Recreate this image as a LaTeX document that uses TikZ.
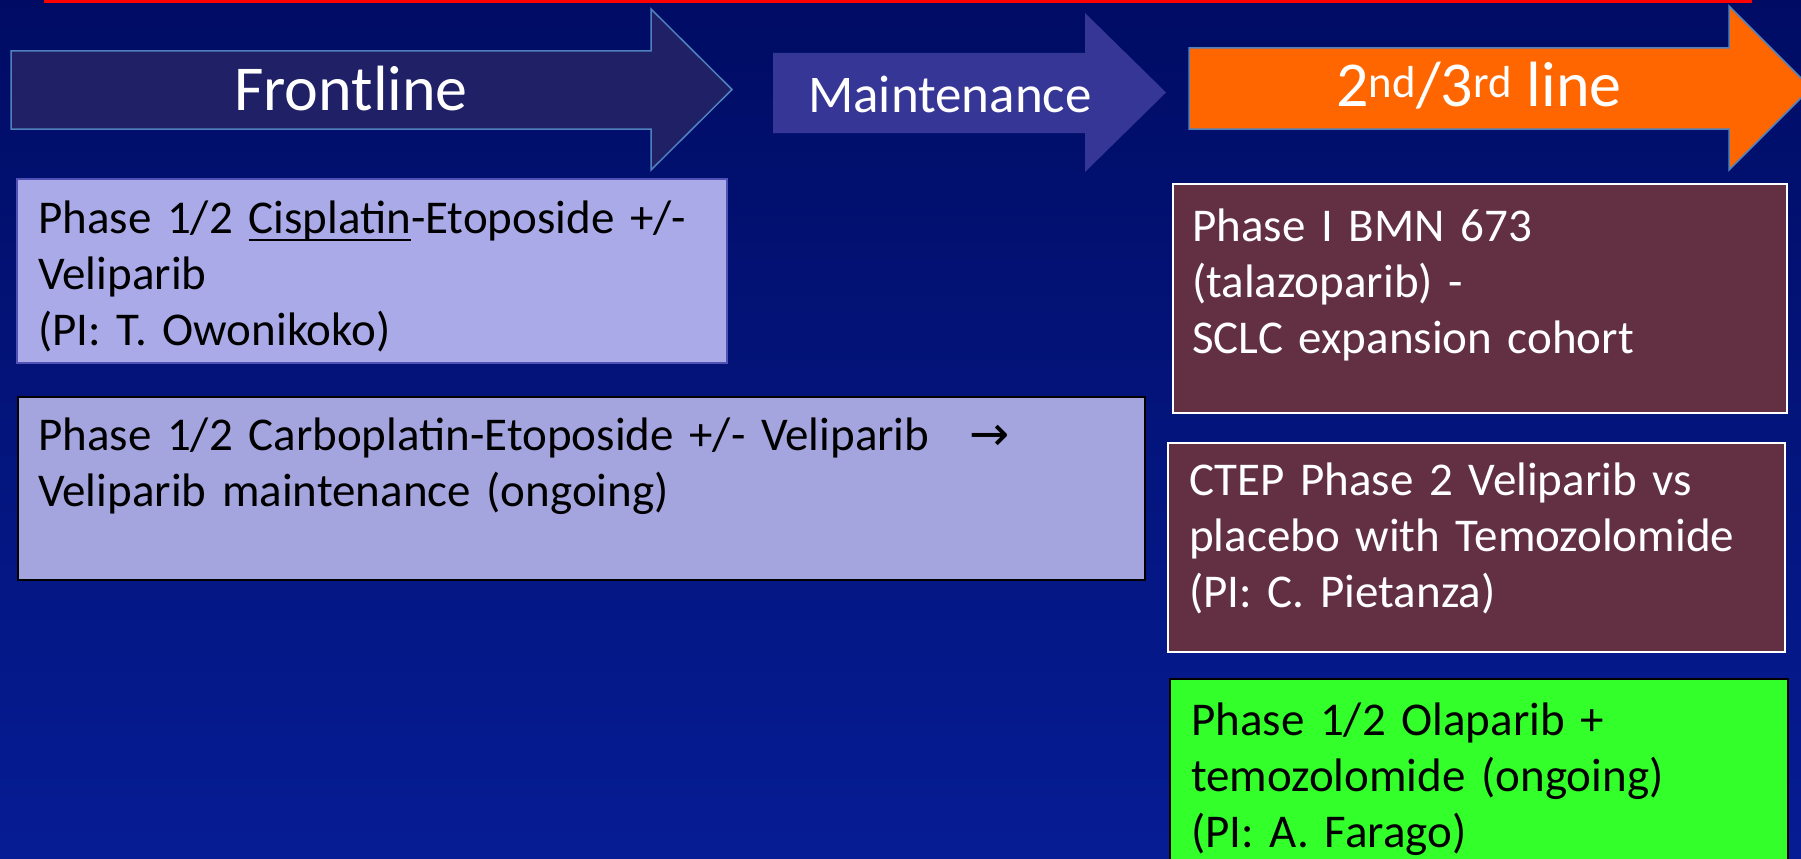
\documentclass[tikz,border=0pt]{standalone}
\usepackage{fontspec}
\setmainfont{Carlito}
\newfontfamily\symfont{DejaVu Sans}

\definecolor{bgtop}{RGB}{0,12,100}
\definecolor{bgbottom}{RGB}{6,28,148}
\definecolor{frontfill}{RGB}{32,32,102}
\definecolor{arrowedge}{RGB}{79,129,189}
\definecolor{maintfill}{RGB}{54,54,150}
\definecolor{linefill}{RGB}{255,102,0}
\definecolor{cisfill}{RGB}{170,170,233}
\definecolor{carbofill}{RGB}{164,164,222}
\definecolor{cisedge}{RGB}{82,82,182}
\definecolor{trialmaroon}{RGB}{99,48,67}
\definecolor{olagreen}{RGB}{51,255,42}

% thick underline as in the slide
\newcommand{\drugline}[1]{\setbox0\hbox{#1}\rlap{\rule[-8pt]{\wd0}{2.5pt}}\box0}

\begin{document}
\begin{tikzpicture}[x=1pt,y=-1pt,
	phasearrow/.style={line width=1.5pt, line join=miter},
	arrowlabel/.style={text=white, inner sep=0pt, font=\fontsize{64}{70}\selectfont},
	trialbox/.style={anchor=north west, inner sep=0pt, line width=2pt},
	trialtext/.style={anchor=base west, inner sep=0pt, text width=600pt, align=left,
		font=\fontsize{47}{56}\selectfont}]
		% Frame
		\useasboundingbox (0,0) rectangle (1801,859);
		\clip (0,0) rectangle (1801,859);
		\fill[top color=bgtop, bottom color=bgbottom] (0,0) rectangle (1801,859);
		\draw[red, line width=4pt] (44,1) -- (1752,1);

		% Phase arrows
		\draw[phasearrow, fill=frontfill, draw=arrowedge]
			(11,51) -- (651,51) -- (651,9) -- (732,89.5) -- (651,170) -- (651,129) -- (11,129) -- cycle;
		\fill[maintfill]
			(773,53) -- (1085,53) -- (1085,13) -- (1166,92.5) -- (1085,172) -- (1085,133) -- (773,133) -- cycle;
		\draw[phasearrow, fill=linefill, draw=arrowedge]
			(1189,48) -- (1729,48) -- (1729,6) -- (1811,88) -- (1729,170) -- (1729,129) -- (1189,129) -- cycle;

		% Arrow labels
		\node[arrowlabel] (front) at (351,89) {Frontline};
		\node[arrowlabel, font=\fontsize{53}{60}\selectfont] (maint) at (950,94) {Maintenance};
		\node[arrowlabel] (later) at (1479,86) {2\textsuperscript{nd}/3\textsuperscript{rd} line};

		% Trial boxes
		% -- frontline
		\node[trialbox, fill=cisfill, draw=cisedge, minimum width=710pt, minimum height=184pt] (cis) at (16,178) {};
		\node[trialbox, fill=carbofill, draw=black, minimum width=1127pt, minimum height=183pt] (carbo) at (17,396) {};

		% -- 2nd/3rd line
		\node[trialbox, fill=trialmaroon, draw=white, minimum width=614pt, minimum height=229pt] (bmn) at (1172,183) {};
		\node[trialbox, fill=trialmaroon, draw=white, minimum width=617pt, minimum height=209pt] (ctep) at (1167,442) {};
		\node[trialbox, fill=olagreen, draw=black, minimum width=618pt, minimum height=220pt] (ola) at (1169,678) {};

		% Trial texts
		\node[trialtext, text width=700pt] (cis-txt) at (38,233)
			{Phase 1/2 \drugline{Cisplatin}-Etoposide +/-\\Veliparib\\(PI: T. Owonikoko)};
		\node[trialtext, text width=1100pt] (carbo-txt) at (38,450)
			{Phase 1/2 Carboplatin-Etoposide +/- Veliparib\hspace{40pt}{\symfont\fontsize{48}{56}\selectfont →}\\Veliparib maintenance (ongoing)};
		\node[trialtext, text=white] (bmn-txt) at (1192,241)
			{Phase I BMN 673\\(talazoparib) -\\SCLC expansion cohort};
		\node[trialtext, text=white] (ctep-txt) at (1189,495)
			{CTEP Phase 2 Veliparib vs\\placebo with Temozolomide\\(PI: C. Pietanza)};
		\node[trialtext] (ola-txt) at (1191,735)
			{Phase 1/2 Olaparib +\\temozolomide (ongoing)\\(PI: A. Farago)};
	\end{tikzpicture}
\end{document}
